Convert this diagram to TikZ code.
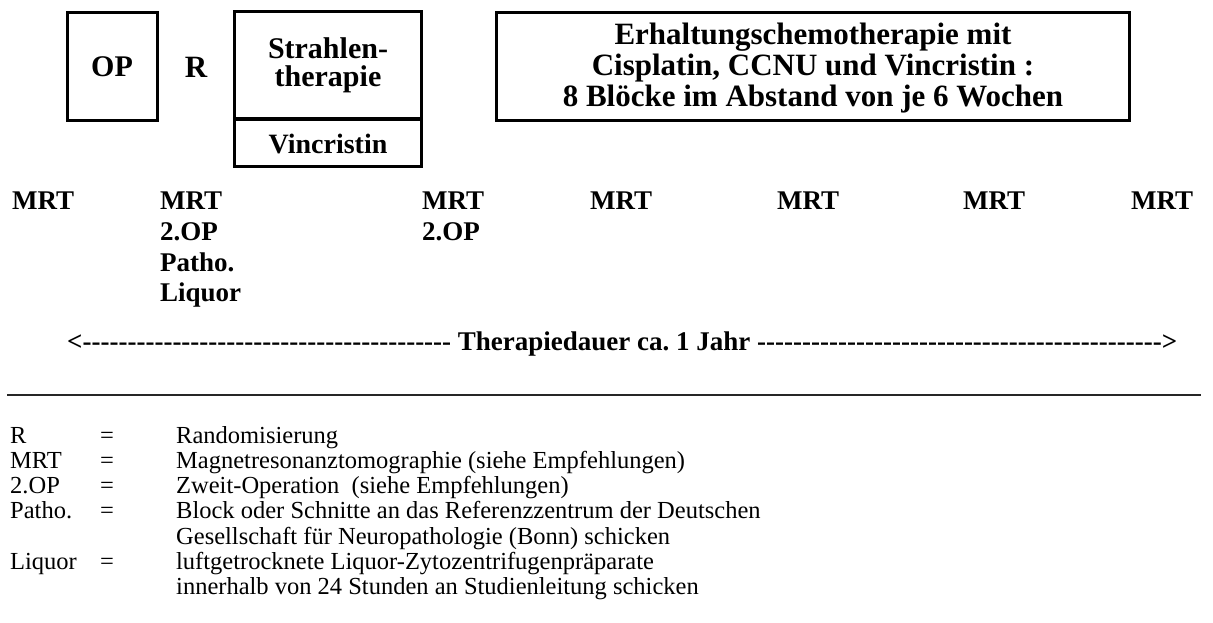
\documentclass[tikz,border=0pt]{standalone}
\usepackage{fontspec}
\setmainfont{Liberation Serif}[BoldFont={Liberation Serif Bold},ItalicFont={Liberation Serif Italic},BoldItalicFont={Liberation Serif Bold Italic}]
\ExplSyntaxOn
\cs_new:Npn \myrepeat #1#2 { \prg_replicate:nn {#1} {#2} }
\ExplSyntaxOff
\begin{document}
\frenchspacing
\begin{tikzpicture}[x=1pt,y=-1pt,
  box/.style={draw, line width=3pt, inner sep=0pt, align=center,
    font=\bfseries\fontsize{30}{28}\selectfont},
  colhead/.style={anchor=north west, inner sep=0pt, align=left,
    font=\bfseries\fontsize{27}{30.7}\selectfont},
  plain/.style={inner sep=0pt}]
\useasboundingbox (0,0) rectangle (1213,623);

% top row
\node[box, minimum width=90pt, minimum height=108pt] (op) at (112,66.5) {OP};
\node[plain, font=\bfseries\fontsize{31}{31}\selectfont] (r) at (196,67) {R};
\node[box, minimum width=187pt, minimum height=107pt] (strahl) at (328,65.5) {Strahlen-\\therapie};
\node[box, minimum width=187pt, minimum height=47pt, font=\bfseries\fontsize{28}{28}\selectfont] (vinc) at (328,143.5) {Vincristin};
\node[box, minimum width=633pt, minimum height=108pt, font=\bfseries\fontsize{31}{31}\selectfont] (chemo) at (813,66.5)
  {\rule{0pt}{25pt}Erhaltungschemotherapie mit\\Cisplatin, CCNU und Vincristin :\\8 Blöcke im Abstand von je 6 Wochen};

% MRT row
\node[colhead] (m1) at (12,192) {MRT};
\node[colhead] (m2) at (160,192) {MRT\\2.OP\\Patho.\\Liquor};
\node[colhead] (m3) at (422,192) {MRT\\2.OP};
\node[colhead] (m4) at (590,192) {MRT};
\node[colhead] (m5) at (777,192) {MRT};
\node[colhead] (m6) at (963,192) {MRT};
\node[colhead] (m7) at (1131,192) {MRT};

% duration line
\node[plain, anchor=base west, font=\bfseries\fontsize{27}{27}\selectfont] (dauer) at (67,350)
  {<\myrepeat{41}{-{}} Therapiedauer ca. 1 Jahr \myrepeat{45}{-{}}>};

% rule
\coordinate (rl) at (7,395);
\coordinate (rr) at (1201,395);
\draw[line width=2pt, black!85] (rl) -- (rr);

% legend
\node[plain, anchor=north west, font=\fontsize{24.5}{25.2}\selectfont] (legend) at (10,425.4) {%
\begin{tabular}{@{}p{90pt}@{}p{76pt}@{}l@{}}
R & = & Randomisierung\\
MRT & = & Magnetresonanztomographie (siehe Empfehlungen)\\
2.OP & = & Zweit-Operation\ \ (siehe Empfehlungen)\\
Patho. & = & Block oder Schnitte an das Referenzzentrum der Deutschen\\
 & & Gesellschaft für Neuropathologie (Bonn) schicken\\
Liquor & = & luftgetrocknete Liquor-Zytozentrifugenpräparate\\
 & & innerhalb von 24 Stunden an Studienleitung schicken
\end{tabular}};
\end{tikzpicture}
\end{document}
